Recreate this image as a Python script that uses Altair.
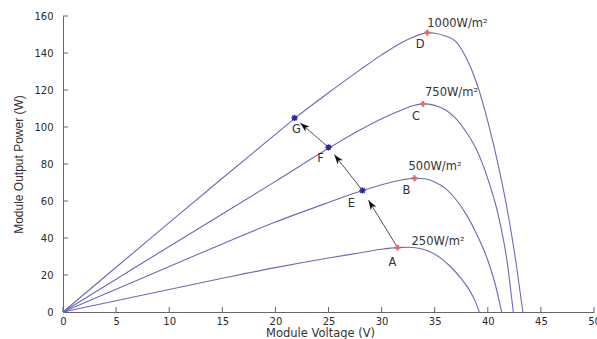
import math
import altair as alt
import pandas as pd

# ---------------- data ----------------
curve_names = ["1000W/m²", "750W/m²", "500W/m²", "250W/m²"]

v_1000 = [0, 5, 10, 15, 20, 22, 25, 28, 30, 32, 33, 34, 34.4, 35, 36, 37, 38, 39, 40, 41, 42, 42.7, 43.3]
p_1000 = [0, 24.2, 48.3, 72.3, 96, 105.5, 118.5, 131, 139, 146, 148.7, 150.6, 151, 150.7, 149.2, 146.2, 137, 123, 103, 79, 50, 25, 0]

v_750 = [0, 5, 10, 15, 20, 25, 28, 30, 32, 33, 33.9, 35, 36, 37, 38, 39, 40, 41, 41.8, 42.4]
p_750 = [0, 17.7, 35.4, 53, 70.6, 88.5, 98.5, 104.5, 109.5, 111.6, 112.5, 111.7, 109.3, 104.5, 97, 87, 72, 52, 28, 0]

v_500 = [0, 5, 10, 15, 20, 25, 28, 30, 32, 33.1, 34, 35, 36, 37, 38, 39, 40, 40.7, 41.3]
p_500 = [0, 12.3, 24.6, 36.8, 48.6, 59.2, 65.3, 68.8, 71.5, 72.3, 72, 70.3, 66.8, 60.8, 52.5, 41.5, 28, 15, 0]

v_250 = [0, 5, 10, 15, 20, 25, 28, 30, 31.5, 32.5, 33.5, 34.5, 35.5, 36.4, 37.5, 38.2, 38.8, 39.2]
p_250 = [0, 6.1, 12.2, 18.2, 24, 29.2, 32, 33.9, 34.8, 35, 34.5, 32.7, 29.4, 25, 18, 12.5, 6, 0]

# maximum power points (red)
mpp_labels = ["D", "C", "B", "A"]
mpp_v = [34.3, 33.9, 33.1, 31.5]
mpp_p = [151, 112.5, 72.3, 34.8]

# operating points (blue)
op_labels = ["G", "F", "E"]
op_v = [21.8, 25.0, 28.2]
op_p = [104.9, 89.0, 65.7]

arrow_from = ["A", "E", "F"]
arrow_to = ["E", "F", "G"]

x_ticks = [0, 5, 10, 15, 20, 25, 30, 35, 40, 45, 50]
y_ticks = [0, 20, 40, 60, 80, 100, 120, 140, 160]

# ---------------- layout / style ----------------
W, H = 531, 296
LINE_COLOR = "#6a6ab8"
FONT = "DejaVu Sans"
irr_offsets = {"1000W/m²": (0, -9), "750W/m²": (2, -11), "500W/m²": (-6, -11), "250W/m²": (14, -6)}
letter_offsets = {"D": (-7, 12), "C": (-7, 13), "B": (-8, 13), "A": (-5, 15),
                  "E": (-11, 14), "F": (-8, 12), "G": (2, 12)}
ARROW_START, ARROW_END = 0.03, 0.83

# ---------------- build tables ----------------
rows = []
for name, vs, ps in zip(curve_names, [v_1000, v_750, v_500, v_250], [p_1000, p_750, p_500, p_250]):
    for i, (v, p) in enumerate(zip(vs, ps)):
        rows.append({"curve": name, "i": i, "V": v, "P": p})
curves_df = pd.DataFrame(rows)

mpp_df = pd.DataFrame({"label": mpp_labels, "V": mpp_v, "P": mpp_p, "curve": curve_names})
op_df = pd.DataFrame({"label": op_labels, "V": op_v, "P": op_p})

pts = {l: (v, p) for l, v, p in zip(mpp_labels + op_labels, mpp_v + op_v, mpp_p + op_p)}
sx, sy = W / 50.0, H / 160.0
arows = []
for a, b in zip(arrow_from, arrow_to):
    (x1, y1), (x2, y2) = pts[a], pts[b]
    xs_ = x1 + ARROW_START * (x2 - x1)
    ys_ = y1 + ARROW_START * (y2 - y1)
    xe = x1 + ARROW_END * (x2 - x1)
    ye = y1 + ARROW_END * (y2 - y1)
    dxp = (xe - xs_) * sx
    dyp = -(ye - ys_) * sy
    ang = math.degrees(math.atan2(dxp, -dyp)) % 360
    arows.append({"V": xs_, "P": ys_, "V2": xe, "P2": ye, "ang": ang})
arrow_df = pd.DataFrame(arows)

xt_df = pd.DataFrame({"V": x_ticks})
yt_df = pd.DataFrame({"P": y_ticks})

# ---------------- chart ----------------
xscale = alt.Scale(domain=[0, 50], nice=False, zero=True)
yscale = alt.Scale(domain=[0, 160], nice=False, zero=True)

xaxis = alt.Axis(values=x_ticks, tickSize=0, grid=False, labelFont=FONT, labelFontSize=10,
                 labelColor="#2a2a2a", labelPadding=4, domainColor="#666", domainWidth=1,
                 labelOverlap=False, labelFlush=False,
                 title="Module Voltage (V)", titleFont=FONT, titleFontSize=11.5,
                 titleFontWeight="normal", titleColor="#333", titleX=257, titleY=24,
                 titleBaseline="alphabetic", titleAlign="center")
yaxis = alt.Axis(values=y_ticks, tickSize=0, grid=False, labelFont=FONT, labelFontSize=10,
                 labelColor="#2a2a2a", labelPadding=10, domainColor="#666", domainWidth=1,
                 labelOverlap=False, labelFlush=False,
                 title="Module Output Power (W)", titleFont="Liberation Sans Narrow, Liberation Sans",
                 titleFontSize=12, titleFontWeight="normal", titleColor="#333",
                 titleX=-45, titleY=H / 2, titleBaseline="middle", titleAlign="center")

X = alt.X("V:Q", scale=xscale, axis=xaxis)
Y = alt.Y("P:Q", scale=yscale, axis=yaxis)

lines = alt.Chart(curves_df).mark_line(color=LINE_COLOR, strokeWidth=1.1, interpolate="monotone").encode(
    x=X, y=Y, detail="curve:N", order="i:Q")

xticks = alt.Chart(xt_df).mark_rule(color="#666", strokeWidth=1).encode(
    x=X, y=alt.value(H), y2=alt.value(H - 5))
yticks = alt.Chart(yt_df).mark_rule(color="#666", strokeWidth=1).encode(
    y=Y, x=alt.value(0), x2=alt.value(5))

arrow_lines = alt.Chart(arrow_df).mark_rule(color="#555", strokeWidth=1).encode(
    x=X, y=Y, x2="V2:Q", y2="P2:Q")
arrow_heads = alt.Chart(arrow_df).mark_point(
    shape="M0,0L-0.34,1L0,0.72L0.34,1Z", filled=True, color="#111", size=380, opacity=1).encode(
    x=alt.X("V2:Q", scale=xscale, axis=xaxis), y=alt.Y("P2:Q", scale=yscale, axis=yaxis),
    angle=alt.Angle("ang:Q", scale=None))

red_pts = alt.Chart(mpp_df).mark_point(shape="cross", filled=True, color="#e06a6a", size=35, opacity=1).encode(
    x=X, y=Y)
blue_pts = alt.Chart(op_df).mark_point(
    shape="M-1,0L1,0M0,-1L0,1M-0.7,-0.7L0.7,0.7M-0.7,0.7L0.7,-0.7",
    filled=False, color="#2a2aa8", strokeWidth=1.5, size=40, opacity=1).encode(x=X, y=Y)

text_layers = []
for name, v, p in zip(curve_names, mpp_v, mpp_p):
    dx, dy = irr_offsets[name]
    text_layers.append(
        alt.Chart(pd.DataFrame({"V": [v], "P": [p], "t": [name]})).mark_text(
            align="left", baseline="middle", dx=dx, dy=dy, font=FONT, fontSize=11.5, color="#333").encode(
            x=X, y=Y, text="t:N"))
for lab, (v, p) in pts.items():
    dx, dy = letter_offsets[lab]
    text_layers.append(
        alt.Chart(pd.DataFrame({"V": [v], "P": [p], "t": [lab]})).mark_text(
            align="center", baseline="middle", dx=dx, dy=dy, font=FONT, fontSize=11.5, color="#333").encode(
            x=X, y=Y, text="t:N"))

chart = alt.layer(lines, xticks, yticks, arrow_lines, arrow_heads, red_pts, blue_pts, *text_layers).properties(
    width=W, height=H,
    autosize=alt.AutoSizeParams(type="none"),
    padding={"left": 63, "top": 16, "right": 3, "bottom": 27},
    background="white",
).configure_view(stroke=None)

chart.save("out.html", embed_options={"renderer": "svg", "actions": False})
